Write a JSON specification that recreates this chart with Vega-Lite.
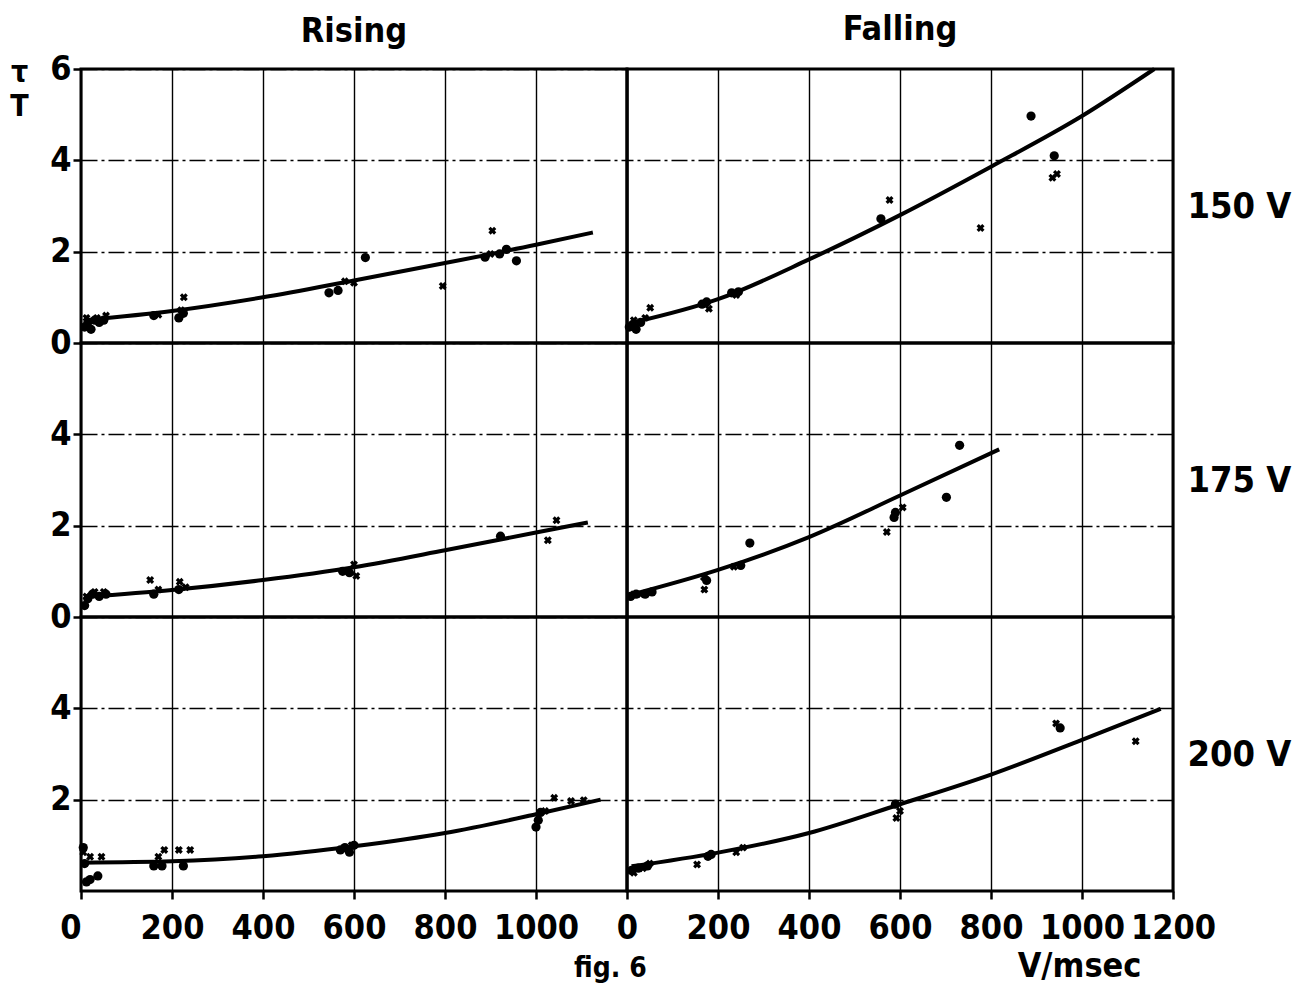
{
  "$schema": "https://vega.github.io/schema/vega-lite/v6.json",
  "background": "white",
  "padding": {"left": 8, "top": 11, "right": 5, "bottom": 5},
  "datasets": {
    "pts": [
      {"d":"Rising","s":"150 V","m":"dot","x":8,"y":0.35},
      {"d":"Rising","s":"150 V","m":"dot","x":15,"y":0.45},
      {"d":"Rising","s":"150 V","m":"dot","x":22,"y":0.3},
      {"d":"Rising","s":"150 V","m":"dot","x":30,"y":0.5},
      {"d":"Rising","s":"150 V","m":"dot","x":40,"y":0.45},
      {"d":"Rising","s":"150 V","m":"dot","x":50,"y":0.5},
      {"d":"Rising","s":"150 V","m":"dot","x":160,"y":0.6},
      {"d":"Rising","s":"150 V","m":"dot","x":215,"y":0.55},
      {"d":"Rising","s":"150 V","m":"dot","x":225,"y":0.65},
      {"d":"Rising","s":"150 V","m":"dot","x":545,"y":1.1},
      {"d":"Rising","s":"150 V","m":"dot","x":565,"y":1.15},
      {"d":"Rising","s":"150 V","m":"dot","x":625,"y":1.87},
      {"d":"Rising","s":"150 V","m":"dot","x":888,"y":1.88},
      {"d":"Rising","s":"150 V","m":"dot","x":920,"y":1.95},
      {"d":"Rising","s":"150 V","m":"dot","x":935,"y":2.05},
      {"d":"Rising","s":"150 V","m":"dot","x":957,"y":1.8},
      {"d":"Rising","s":"150 V","m":"cross","x":12,"y":0.55},
      {"d":"Rising","s":"150 V","m":"cross","x":35,"y":0.55},
      {"d":"Rising","s":"150 V","m":"cross","x":55,"y":0.6},
      {"d":"Rising","s":"150 V","m":"cross","x":170,"y":0.62},
      {"d":"Rising","s":"150 V","m":"cross","x":220,"y":0.72},
      {"d":"Rising","s":"150 V","m":"cross","x":226,"y":1.0},
      {"d":"Rising","s":"150 V","m":"cross","x":580,"y":1.35},
      {"d":"Rising","s":"150 V","m":"cross","x":600,"y":1.32},
      {"d":"Rising","s":"150 V","m":"cross","x":795,"y":1.25},
      {"d":"Rising","s":"150 V","m":"cross","x":904,"y":2.46},
      {"d":"Rising","s":"150 V","m":"cross","x":900,"y":1.95},

      {"d":"Falling","s":"150 V","m":"dot","x":5,"y":0.35},
      {"d":"Falling","s":"150 V","m":"dot","x":12,"y":0.4},
      {"d":"Falling","s":"150 V","m":"dot","x":20,"y":0.3},
      {"d":"Falling","s":"150 V","m":"dot","x":30,"y":0.45},
      {"d":"Falling","s":"150 V","m":"dot","x":165,"y":0.85},
      {"d":"Falling","s":"150 V","m":"dot","x":175,"y":0.9},
      {"d":"Falling","s":"150 V","m":"dot","x":230,"y":1.1},
      {"d":"Falling","s":"150 V","m":"dot","x":245,"y":1.12},
      {"d":"Falling","s":"150 V","m":"dot","x":558,"y":2.72},
      {"d":"Falling","s":"150 V","m":"dot","x":888,"y":4.97},
      {"d":"Falling","s":"150 V","m":"dot","x":939,"y":4.1},
      {"d":"Falling","s":"150 V","m":"cross","x":15,"y":0.5},
      {"d":"Falling","s":"150 V","m":"cross","x":40,"y":0.55},
      {"d":"Falling","s":"150 V","m":"cross","x":51,"y":0.77},
      {"d":"Falling","s":"150 V","m":"cross","x":180,"y":0.75},
      {"d":"Falling","s":"150 V","m":"cross","x":240,"y":1.05},
      {"d":"Falling","s":"150 V","m":"cross","x":577,"y":3.13},
      {"d":"Falling","s":"150 V","m":"cross","x":777,"y":2.52},
      {"d":"Falling","s":"150 V","m":"cross","x":935,"y":3.62},
      {"d":"Falling","s":"150 V","m":"cross","x":945,"y":3.7},

      {"d":"Rising","s":"175 V","m":"dot","x":8,"y":0.25},
      {"d":"Rising","s":"175 V","m":"dot","x":15,"y":0.4},
      {"d":"Rising","s":"175 V","m":"dot","x":25,"y":0.5},
      {"d":"Rising","s":"175 V","m":"dot","x":40,"y":0.45},
      {"d":"Rising","s":"175 V","m":"dot","x":55,"y":0.5},
      {"d":"Rising","s":"175 V","m":"dot","x":160,"y":0.5},
      {"d":"Rising","s":"175 V","m":"dot","x":215,"y":0.6},
      {"d":"Rising","s":"175 V","m":"dot","x":575,"y":1.0},
      {"d":"Rising","s":"175 V","m":"dot","x":590,"y":0.97},
      {"d":"Rising","s":"175 V","m":"dot","x":922,"y":1.77},
      {"d":"Rising","s":"175 V","m":"cross","x":12,"y":0.45},
      {"d":"Rising","s":"175 V","m":"cross","x":30,"y":0.55},
      {"d":"Rising","s":"175 V","m":"cross","x":50,"y":0.55},
      {"d":"Rising","s":"175 V","m":"cross","x":152,"y":0.81},
      {"d":"Rising","s":"175 V","m":"cross","x":170,"y":0.6},
      {"d":"Rising","s":"175 V","m":"cross","x":217,"y":0.77},
      {"d":"Rising","s":"175 V","m":"cross","x":230,"y":0.65},
      {"d":"Rising","s":"175 V","m":"cross","x":600,"y":1.15},
      {"d":"Rising","s":"175 V","m":"cross","x":605,"y":0.9},
      {"d":"Rising","s":"175 V","m":"cross","x":1026,"y":1.68},
      {"d":"Rising","s":"175 V","m":"cross","x":1045,"y":2.12},

      {"d":"Falling","s":"175 V","m":"dot","x":8,"y":0.45},
      {"d":"Falling","s":"175 V","m":"dot","x":20,"y":0.5},
      {"d":"Falling","s":"175 V","m":"dot","x":40,"y":0.5},
      {"d":"Falling","s":"175 V","m":"dot","x":55,"y":0.55},
      {"d":"Falling","s":"175 V","m":"dot","x":175,"y":0.8},
      {"d":"Falling","s":"175 V","m":"dot","x":250,"y":1.13},
      {"d":"Falling","s":"175 V","m":"dot","x":270,"y":1.62},
      {"d":"Falling","s":"175 V","m":"dot","x":587,"y":2.18},
      {"d":"Falling","s":"175 V","m":"dot","x":590,"y":2.29},
      {"d":"Falling","s":"175 V","m":"dot","x":702,"y":2.62},
      {"d":"Falling","s":"175 V","m":"dot","x":731,"y":3.76},
      {"d":"Falling","s":"175 V","m":"cross","x":15,"y":0.5},
      {"d":"Falling","s":"175 V","m":"cross","x":30,"y":0.5},
      {"d":"Falling","s":"175 V","m":"cross","x":169,"y":0.87},
      {"d":"Falling","s":"175 V","m":"cross","x":170,"y":0.6},
      {"d":"Falling","s":"175 V","m":"cross","x":235,"y":1.1},
      {"d":"Falling","s":"175 V","m":"cross","x":571,"y":1.86},
      {"d":"Falling","s":"175 V","m":"cross","x":606,"y":2.4},

      {"d":"Rising","s":"200 V","m":"dot","x":5,"y":0.95},
      {"d":"Rising","s":"200 V","m":"dot","x":8,"y":0.6},
      {"d":"Rising","s":"200 V","m":"dot","x":12,"y":0.2},
      {"d":"Rising","s":"200 V","m":"dot","x":20,"y":0.25},
      {"d":"Rising","s":"200 V","m":"dot","x":37,"y":0.33},
      {"d":"Rising","s":"200 V","m":"dot","x":160,"y":0.55},
      {"d":"Rising","s":"200 V","m":"dot","x":178,"y":0.55},
      {"d":"Rising","s":"200 V","m":"dot","x":225,"y":0.55},
      {"d":"Rising","s":"200 V","m":"dot","x":570,"y":0.9},
      {"d":"Rising","s":"200 V","m":"dot","x":580,"y":0.95},
      {"d":"Rising","s":"200 V","m":"dot","x":590,"y":0.85},
      {"d":"Rising","s":"200 V","m":"dot","x":600,"y":1.0},
      {"d":"Rising","s":"200 V","m":"dot","x":1000,"y":1.4},
      {"d":"Rising","s":"200 V","m":"dot","x":1005,"y":1.55},
      {"d":"Rising","s":"200 V","m":"dot","x":1010,"y":1.72},
      {"d":"Rising","s":"200 V","m":"cross","x":5,"y":0.85},
      {"d":"Rising","s":"200 V","m":"cross","x":20,"y":0.75},
      {"d":"Rising","s":"200 V","m":"cross","x":45,"y":0.75},
      {"d":"Rising","s":"200 V","m":"cross","x":170,"y":0.75},
      {"d":"Rising","s":"200 V","m":"cross","x":183,"y":0.9},
      {"d":"Rising","s":"200 V","m":"cross","x":215,"y":0.9},
      {"d":"Rising","s":"200 V","m":"cross","x":240,"y":0.9},
      {"d":"Rising","s":"200 V","m":"cross","x":595,"y":1.0},
      {"d":"Rising","s":"200 V","m":"cross","x":1020,"y":1.75},
      {"d":"Rising","s":"200 V","m":"cross","x":1040,"y":2.04},
      {"d":"Rising","s":"200 V","m":"cross","x":1077,"y":1.97},
      {"d":"Rising","s":"200 V","m":"cross","x":1105,"y":1.99},

      {"d":"Falling","s":"200 V","m":"dot","x":10,"y":0.45},
      {"d":"Falling","s":"200 V","m":"dot","x":25,"y":0.5},
      {"d":"Falling","s":"200 V","m":"dot","x":45,"y":0.55},
      {"d":"Falling","s":"200 V","m":"dot","x":178,"y":0.76},
      {"d":"Falling","s":"200 V","m":"dot","x":185,"y":0.8},
      {"d":"Falling","s":"200 V","m":"dot","x":590,"y":1.9},
      {"d":"Falling","s":"200 V","m":"dot","x":952,"y":3.57},
      {"d":"Falling","s":"200 V","m":"cross","x":15,"y":0.4},
      {"d":"Falling","s":"200 V","m":"cross","x":35,"y":0.5},
      {"d":"Falling","s":"200 V","m":"cross","x":50,"y":0.6},
      {"d":"Falling","s":"200 V","m":"cross","x":154,"y":0.58},
      {"d":"Falling","s":"200 V","m":"cross","x":240,"y":0.85},
      {"d":"Falling","s":"200 V","m":"cross","x":255,"y":0.95},
      {"d":"Falling","s":"200 V","m":"cross","x":592,"y":1.6},
      {"d":"Falling","s":"200 V","m":"cross","x":600,"y":1.75},
      {"d":"Falling","s":"200 V","m":"cross","x":943,"y":3.67},
      {"d":"Falling","s":"200 V","m":"cross","x":1118,"y":3.28}
    ],
    "curves": [
      {"d":"Rising","s":"150 V","x":9,"y":0.5},
      {"d":"Rising","s":"150 V","x":200,"y":0.7},
      {"d":"Rising","s":"150 V","x":400,"y":1.0},
      {"d":"Rising","s":"150 V","x":600,"y":1.37},
      {"d":"Rising","s":"150 V","x":800,"y":1.75},
      {"d":"Rising","s":"150 V","x":1000,"y":2.15},
      {"d":"Rising","s":"150 V","x":1125,"y":2.42},
      {"d":"Falling","s":"150 V","x":10,"y":0.44},
      {"d":"Falling","s":"150 V","x":200,"y":0.96},
      {"d":"Falling","s":"150 V","x":400,"y":1.83},
      {"d":"Falling","s":"150 V","x":600,"y":2.8},
      {"d":"Falling","s":"150 V","x":800,"y":3.86},
      {"d":"Falling","s":"150 V","x":1000,"y":4.97},
      {"d":"Falling","s":"150 V","x":1159,"y":6.0},
      {"d":"Rising","s":"175 V","x":9,"y":0.44},
      {"d":"Rising","s":"175 V","x":200,"y":0.59},
      {"d":"Rising","s":"175 V","x":400,"y":0.81},
      {"d":"Rising","s":"175 V","x":600,"y":1.09},
      {"d":"Rising","s":"175 V","x":800,"y":1.46},
      {"d":"Rising","s":"175 V","x":1000,"y":1.85},
      {"d":"Rising","s":"175 V","x":1114,"y":2.07},
      {"d":"Falling","s":"175 V","x":6,"y":0.48},
      {"d":"Falling","s":"175 V","x":200,"y":1.03},
      {"d":"Falling","s":"175 V","x":400,"y":1.75},
      {"d":"Falling","s":"175 V","x":600,"y":2.66},
      {"d":"Falling","s":"175 V","x":818,"y":3.67},
      {"d":"Rising","s":"200 V","x":0,"y":0.62},
      {"d":"Rising","s":"200 V","x":200,"y":0.65},
      {"d":"Rising","s":"200 V","x":400,"y":0.76},
      {"d":"Rising","s":"200 V","x":600,"y":0.98},
      {"d":"Rising","s":"200 V","x":800,"y":1.27},
      {"d":"Rising","s":"200 V","x":1000,"y":1.68},
      {"d":"Rising","s":"200 V","x":1142,"y":2.0},
      {"d":"Falling","s":"200 V","x":10,"y":0.54},
      {"d":"Falling","s":"200 V","x":200,"y":0.84},
      {"d":"Falling","s":"200 V","x":400,"y":1.27},
      {"d":"Falling","s":"200 V","x":600,"y":1.9},
      {"d":"Falling","s":"200 V","x":800,"y":2.55},
      {"d":"Falling","s":"200 V","x":1000,"y":3.31},
      {"d":"Falling","s":"200 V","x":1173,"y":3.99}
    ]
  },
  "title": {"text": "fig. 6", "orient": "bottom", "anchor": "middle", "fontSize": 28, "offset": -30, "dx": -40},
  "columns": 2,
  "spacing": 0,
  "bounds": "flush",
  "concat": [
    {
      "width": 546, "height": 274,
      "title": {"text": "Rising", "offset": 14, "dy": 11},
      "encoding": {
        "x": {"field": "x", "type": "quantitative", "scale": {"domain": [0, 1200], "nice": false, "zero": false},
              "axis": {"values": [0,200,400,600,800,1000,1200], "labels": false, "ticks": false, "title": null}},
        "y": {"field": "y", "type": "quantitative", "scale": {"domain": [0, 6], "nice": false},
              "axis": {"values": [0,2,4,6], "tickSize": 8, "labelPadding": 2, "title": ["τ","T"], "titleAngle": 0, "titleX": -62, "titleY": -12, "titleAlign": "center", "titleBaseline": "top", "titleFontSize": 30, "titleLineHeight": 34}}
      },
      "layer": [
        {"data": {"name": "curves"}, "transform": [{"filter": "datum.d=='Rising' && datum.s=='150 V'"}], "mark": {"type": "line", "color": "black", "strokeWidth": 4, "interpolate": "monotone"}},
        {"data": {"name": "pts"}, "transform": [{"filter": "datum.d=='Rising' && datum.s=='150 V' && datum.m=='dot'"}], "mark": {"type": "point", "shape": "circle", "filled": true, "color": "black", "size": 85, "opacity": 1}},
        {"data": {"name": "pts"}, "transform": [{"filter": "datum.d=='Rising' && datum.s=='150 V' && datum.m=='cross'"}], "mark": {"type": "point", "shape": "cross", "angle": 45, "filled": true, "color": "black", "size": 65, "opacity": 1}}
      ]
    },
    {
      "width": 546, "height": 274,
      "title": {"text": "Falling", "offset": 14},
      "encoding": {
        "x": {"field": "x", "type": "quantitative", "scale": {"domain": [0, 1200], "nice": false, "zero": false},
              "axis": {"values": [0,200,400,600,800,1000,1200], "labels": false, "ticks": false, "title": null}},
        "y": {"field": "y", "type": "quantitative", "scale": {"domain": [0, 6], "nice": false},
              "axis": {"orient": "right", "values": [2,4], "labels": false, "ticks": false, "title": "150 V", "titleAngle": 0, "titleAlign": "left", "titleBaseline": "middle", "titlePadding": 14, "titleFontSize": 36}}
      },
      "layer": [
        {"data": {"name": "curves"}, "transform": [{"filter": "datum.d=='Falling' && datum.s=='150 V'"}], "mark": {"type": "line", "color": "black", "strokeWidth": 4, "interpolate": "monotone"}},
        {"data": {"name": "pts"}, "transform": [{"filter": "datum.d=='Falling' && datum.s=='150 V' && datum.m=='dot'"}], "mark": {"type": "point", "shape": "circle", "filled": true, "color": "black", "size": 85, "opacity": 1}},
        {"data": {"name": "pts"}, "transform": [{"filter": "datum.d=='Falling' && datum.s=='150 V' && datum.m=='cross'"}], "mark": {"type": "point", "shape": "cross", "angle": 45, "filled": true, "color": "black", "size": 65, "opacity": 1}}
      ]
    },
    {
      "width": 546, "height": 274,
      "encoding": {
        "x": {"field": "x", "type": "quantitative", "scale": {"domain": [0, 1200], "nice": false, "zero": false},
              "axis": {"values": [0,200,400,600,800,1000,1200], "labels": false, "ticks": false, "title": null}},
        "y": {"field": "y", "type": "quantitative", "scale": {"domain": [0, 6], "nice": false},
              "axis": {"values": [0,2,4], "tickSize": 8, "labelPadding": 2, "title": null}}
      },
      "layer": [
        {"data": {"name": "curves"}, "transform": [{"filter": "datum.d=='Rising' && datum.s=='175 V'"}], "mark": {"type": "line", "color": "black", "strokeWidth": 4, "interpolate": "monotone"}},
        {"data": {"name": "pts"}, "transform": [{"filter": "datum.d=='Rising' && datum.s=='175 V' && datum.m=='dot'"}], "mark": {"type": "point", "shape": "circle", "filled": true, "color": "black", "size": 85, "opacity": 1}},
        {"data": {"name": "pts"}, "transform": [{"filter": "datum.d=='Rising' && datum.s=='175 V' && datum.m=='cross'"}], "mark": {"type": "point", "shape": "cross", "angle": 45, "filled": true, "color": "black", "size": 65, "opacity": 1}}
      ]
    },
    {
      "width": 546, "height": 274,
      "encoding": {
        "x": {"field": "x", "type": "quantitative", "scale": {"domain": [0, 1200], "nice": false, "zero": false},
              "axis": {"values": [0,200,400,600,800,1000,1200], "labels": false, "ticks": false, "title": null}},
        "y": {"field": "y", "type": "quantitative", "scale": {"domain": [0, 6], "nice": false},
              "axis": {"orient": "right", "values": [2,4], "labels": false, "ticks": false, "title": "175 V", "titleAngle": 0, "titleAlign": "left", "titleBaseline": "middle", "titlePadding": 14, "titleFontSize": 36}}
      },
      "layer": [
        {"data": {"name": "curves"}, "transform": [{"filter": "datum.d=='Falling' && datum.s=='175 V'"}], "mark": {"type": "line", "color": "black", "strokeWidth": 4, "interpolate": "monotone"}},
        {"data": {"name": "pts"}, "transform": [{"filter": "datum.d=='Falling' && datum.s=='175 V' && datum.m=='dot'"}], "mark": {"type": "point", "shape": "circle", "filled": true, "color": "black", "size": 85, "opacity": 1}},
        {"data": {"name": "pts"}, "transform": [{"filter": "datum.d=='Falling' && datum.s=='175 V' && datum.m=='cross'"}], "mark": {"type": "point", "shape": "cross", "angle": 45, "filled": true, "color": "black", "size": 65, "opacity": 1}}
      ]
    },
    {
      "width": 546, "height": 274,
      "encoding": {
        "x": {"field": "x", "type": "quantitative", "scale": {"domain": [0, 1200], "nice": false, "zero": false},
              "axis": {"values": [0,200,400,600,800,1000], "labels": true, "ticks": true, "tickSize": 8, "labelPadding": 12, "title": null,
                       "labelAlign": {"condition": {"test": "datum.value == 0", "value": "right"}, "value": "center"}}},
        "y": {"field": "y", "type": "quantitative", "scale": {"domain": [0, 6], "nice": false},
              "axis": {"values": [2,4], "tickSize": 8, "labelPadding": 2, "title": null}}
      },
      "layer": [
        {"data": {"name": "curves"}, "transform": [{"filter": "datum.d=='Rising' && datum.s=='200 V'"}], "mark": {"type": "line", "color": "black", "strokeWidth": 4, "interpolate": "monotone"}},
        {"data": {"name": "pts"}, "transform": [{"filter": "datum.d=='Rising' && datum.s=='200 V' && datum.m=='dot'"}], "mark": {"type": "point", "shape": "circle", "filled": true, "color": "black", "size": 85, "opacity": 1}},
        {"data": {"name": "pts"}, "transform": [{"filter": "datum.d=='Rising' && datum.s=='200 V' && datum.m=='cross'"}], "mark": {"type": "point", "shape": "cross", "angle": 45, "filled": true, "color": "black", "size": 65, "opacity": 1}}
      ]
    },
    {
      "width": 546, "height": 274,
      "encoding": {
        "x": {"field": "x", "type": "quantitative", "scale": {"domain": [0, 1200], "nice": false, "zero": false},
              "axis": {"values": [0,200,400,600,800,1000,1200], "labels": true, "ticks": true, "tickSize": 8, "labelPadding": 12, "title": "V/msec", "titleAnchor": "end", "titleAlign": "right", "titleX": 514, "titlePadding": 4, "titleFontSize": 34}},
        "y": {"field": "y", "type": "quantitative", "scale": {"domain": [0, 6], "nice": false},
              "axis": {"orient": "right", "values": [2,4], "labels": false, "ticks": false, "title": "200 V", "titleAngle": 0, "titleAlign": "left", "titleBaseline": "middle", "titlePadding": 14, "titleFontSize": 36}}
      },
      "layer": [
        {"data": {"name": "curves"}, "transform": [{"filter": "datum.d=='Falling' && datum.s=='200 V'"}], "mark": {"type": "line", "color": "black", "strokeWidth": 4, "interpolate": "monotone"}},
        {"data": {"name": "pts"}, "transform": [{"filter": "datum.d=='Falling' && datum.s=='200 V' && datum.m=='dot'"}], "mark": {"type": "point", "shape": "circle", "filled": true, "color": "black", "size": 85, "opacity": 1}},
        {"data": {"name": "pts"}, "transform": [{"filter": "datum.d=='Falling' && datum.s=='200 V' && datum.m=='cross'"}], "mark": {"type": "point", "shape": "cross", "angle": 45, "filled": true, "color": "black", "size": 65, "opacity": 1}}
      ]
    }
  ],
  "config": {
    "font": "DejaVu Sans Condensed, DejaVu Sans, sans-serif",
    "view": {"stroke": "black", "strokeWidth": 3},
    "axis": {
      "domain": false,
      "grid": true,
      "gridColor": "black",
      "gridOpacity": 1,
      "gridWidth": 1.4,
      "format": "d",
      "labelFlush": false,
      "labelOverlap": false,
      "labelColor": "black",
      "labelFont": "DejaVu Sans Condensed, DejaVu Sans, sans-serif",
      "labelFontSize": 34,
      "labelFontWeight": "bold",
      "tickColor": "black",
      "tickWidth": 2.5,
      "titleColor": "black",
      "titleFont": "DejaVu Sans Condensed, DejaVu Sans, sans-serif",
      "titleFontWeight": "bold"
    },
    "axisY": {"gridDash": [16, 4, 3, 4]},
    "title": {"font": "DejaVu Sans Condensed, DejaVu Sans, sans-serif", "fontSize": 34, "fontWeight": "bold", "color": "black"}
  }
}
